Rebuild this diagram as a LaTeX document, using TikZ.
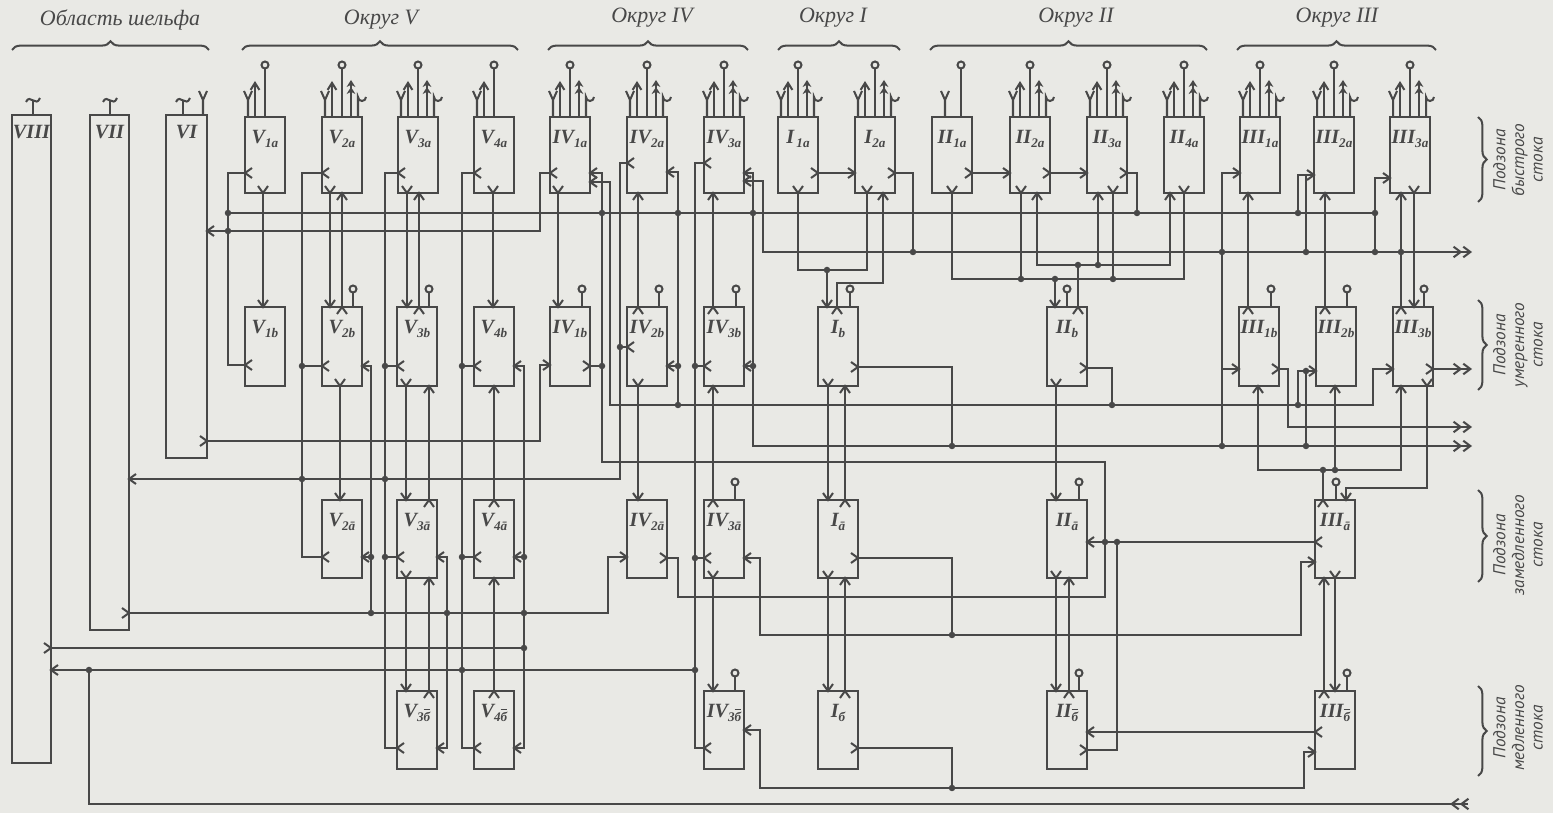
\documentclass[tikz,border=0pt]{standalone}
\usepackage{fontspec}
\setmainfont{Liberation Serif}
\newfontfamily\lbfont{Liberation Serif}
\newfontfamily\rfont{PT Sans}
\usetikzlibrary{arrows.meta,decorations.pathreplacing,calc}
\definecolor{ink}{RGB}{72,72,72}
\definecolor{bg}{RGB}{233,233,229}
\tikzset{
  wire/.style={draw=ink,line width=1.15pt},
  box/.style={draw=ink,line width=1.5pt,inner sep=0pt,outer sep=0pt,shape=rectangle},
  lab/.style={text=ink,font=\lbfont\bfseries\itshape\fontsize{11.5}{12}\selectfont,inner sep=0pt},
  hdr/.style={text=ink,font=\lbfont\itshape\fontsize{12.5}{13}\selectfont,inner sep=0pt},
  side/.style={text=ink,font=\rfont\itshape\fontsize{9.8}{10.6}\selectfont,align=center,rotate=90,inner sep=0pt},
  dbl/.style={-{Straight Barb[length=4pt,width=6pt]Straight Barb[length=4pt,width=6pt]}},
  brc/.style={wire,decorate,decoration={brace,amplitude=5pt}},
}
\newcommand\blab[2]{#1\raisebox{-0.4ex}{\fontsize{7.5}{8}\selectfont #2}}
\newcommand\bb{$\overline{\mbox{б}}$}
\newcommand\mkbox[6]{%
  \node[box,minimum width={(#3-#2)*0.02cm},minimum height={(#5-#4)*0.02cm}] (#1) at ({(#2+#3)/2},{(#4+#5)/2}) {};
  \node[lab] (#1t) at ({(#2+#3)/2},{#4+22}) {#6};}
\newcommand\chE[2]{\draw[wire] ({#1-7},{#2-5}) -- (#1,#2) -- ({#1-7},{#2+5});}
\newcommand\chW[2]{\draw[wire] ({#1+7},{#2-5}) -- (#1,#2) -- ({#1+7},{#2+5});}
\newcommand\chN[2]{\draw[wire] ({#1-5},{#2+7}) -- (#1,#2) -- ({#1+5},{#2+7});}
\newcommand\chS[2]{\draw[wire] ({#1-5},{#2-7}) -- (#1,#2) -- ({#1+5},{#2-7});}
\newcommand\jd[2]{\fill[ink] (#1,#2) circle[radius=0.065cm];}
\newcommand\symY[1]{\draw[wire] (#1,117) -- (#1,100) ({#1-4},91) -- (#1,100) -- ({#1+4},91);}
\newcommand\symUp[1]{\draw[wire,-{Straight Barb[length=4pt,width=5pt]}] (#1,117) -- (#1,81);}
\newcommand\symO[1]{\draw[wire] (#1,117) -- (#1,69); \draw[wire,fill=bg] (#1,65) circle[radius=0.07cm];}
\newcommand\symDb[1]{\draw[wire,-{Stealth[length=4pt,width=5pt]Stealth[length=4pt,width=5pt]}] (#1,117) -- (#1,80);}
\newcommand\symU[1]{\draw[wire] (#1,117) -- (#1,97) arc[start angle=180,end angle=360,radius=0.08cm];}
\newcommand\tfull[1]{\symY{#1+3}\symUp{#1+10}\symO{#1+20}\symDb{#1+29}\symU{#1+36}}
\newcommand\tthree[1]{\symY{#1+3}\symUp{#1+10}\symO{#1+20}}
\newcommand\symT[1]{\draw[wire] (#1,115) -- (#1,101); \draw[wire] ({#1-7},102) .. controls ({#1-3},93) and ({#1+3},108) .. ({#1+7},98);}
\newcommand\symC[2]{\draw[wire] (#1,#2) -- (#1,{#2-14}); \draw[wire,fill=bg] (#1,{#2-18}) circle[radius=0.07cm];}
\begin{document}
\begin{tikzpicture}[x=0.02cm,y=-0.02cm]
\useasboundingbox (0,0) rectangle (1553,813);
\fill[bg] (0,0) rectangle (1553,813);

% ---------- headers
\draw[brc] (12,50) -- (209,50);   \node[hdr] (h0) at (120,20) {Область шельфа};
\draw[brc] (242,50) -- (518,50);  \node[hdr] (h5) at (381,20) {Округ V};
\draw[brc] (548,50) -- (748,50);  \node[hdr] (h4) at (652,18) {Округ IV};
\draw[brc] (778,50) -- (900,50);  \node[hdr] (h1) at (833,18) {Округ I};
\draw[brc] (930,50) -- (1207,50); \node[hdr] (h2) at (1076,18) {Округ II};
\draw[brc] (1237,50) -- (1436,50);\node[hdr] (h3) at (1337,18) {Округ III};

% ---------- side labels
\draw[brc] (1478,117) -- (1478,202); \node[side] (r1) at (1518,160) {Подзона\\быстрого\\стока};
\draw[brc] (1478,300) -- (1478,390); \node[side] (r2) at (1518,345) {Подзона\\умеренного\\стока};
\draw[brc] (1478,490) -- (1478,582); \node[side] (r3) at (1518,545) {Подзона\\замедленного\\стока};
\draw[brc] (1478,686) -- (1478,776); \node[side] (r4) at (1518,728) {Подзона\\медленного\\стока};

% ---------- shelf boxes
\node[box,minimum width=0.78cm,minimum height=12.96cm] (VIII) at (31.5,439) {};
\node[lab] (VIIIt) at (31.5,132) {VIII};
\node[box,minimum width=0.78cm,minimum height=10.3cm] (VII) at (109.5,372.5) {};
\node[lab] (VIIt) at (109.5,132) {VII};
\node[box,minimum width=0.82cm,minimum height=6.86cm] (VI) at (186.5,286.5) {};
\node[lab] (VIt) at (186.5,132) {VI};
\symT{33}\symT{110}\symT{183}
\draw[wire] (203,115) -- (203,100) (199,91) -- (203,100) -- (207,91);

% ---------- row a
\mkbox{V1a}{245}{285}{117}{193}{\blab{V}{1a}}
\mkbox{V2a}{322}{362}{117}{193}{\blab{V}{2a}}
\mkbox{V3a}{398}{438}{117}{193}{\blab{V}{3a}}
\mkbox{V4a}{474}{514}{117}{193}{\blab{V}{4a}}
\mkbox{IV1a}{550}{590}{117}{193}{\blab{IV}{1a}}
\mkbox{IV2a}{627}{667}{117}{193}{\blab{IV}{2a}}
\mkbox{IV3a}{704}{744}{117}{193}{\blab{IV}{3a}}
\mkbox{I1a}{778}{818}{117}{193}{\blab{I}{\,1a}}
\mkbox{I2a}{855}{895}{117}{193}{\blab{I}{2a}}
\mkbox{II1a}{932}{972}{117}{193}{\blab{II}{1a}}
\mkbox{II2a}{1010}{1050}{117}{193}{\blab{II}{2a}}
\mkbox{II3a}{1087}{1127}{117}{193}{\blab{II}{3a}}
\mkbox{II4a}{1164}{1204}{117}{193}{\blab{II}{4a}}
\mkbox{III1a}{1240}{1280}{117}{193}{\blab{III}{1a}}
\mkbox{III2a}{1314}{1354}{117}{193}{\blab{III}{2a}}
\mkbox{III3a}{1390}{1430}{117}{193}{\blab{III}{3a}}
\tthree{245}\tfull{322}\tfull{398}\tthree{474}\tfull{550}\tfull{627}\tfull{704}
\tfull{778}\tfull{855}\symY{945}\symO{961}\tfull{1010}\tfull{1087}\tfull{1164}
\tfull{1240}\tfull{1314}\tfull{1390}

% ---------- row b
\mkbox{V1b}{245}{285}{307}{386}{\blab{V}{1b}}
\mkbox{V2b}{322}{362}{307}{386}{\blab{V}{2b}}
\mkbox{V3b}{397}{437}{307}{386}{\blab{V}{3b}}
\mkbox{V4b}{474}{514}{307}{386}{\blab{V}{4b}}
\mkbox{IV1b}{550}{590}{307}{386}{\blab{IV}{1b}}
\mkbox{IV2b}{627}{667}{307}{386}{\blab{IV}{2b}}
\mkbox{IV3b}{704}{744}{307}{386}{\blab{IV}{3b}}
\mkbox{Ib}{818}{858}{307}{386}{\blab{I}{b}}
\mkbox{IIb}{1047}{1087}{307}{386}{\blab{II}{b}}
\mkbox{III1b}{1239}{1279}{307}{386}{\blab{III}{1b}}
\mkbox{III2b}{1316}{1356}{307}{386}{\blab{III}{2b}}
\mkbox{III3b}{1393}{1433}{307}{386}{\blab{III}{3b}}
\symC{353}{307}\symC{429}{307}\symC{582}{307}\symC{659}{307}\symC{736}{307}
\symC{850}{307}\symC{1067}{307}\symC{1271}{307}\symC{1347}{307}\symC{1424}{307}

% ---------- row a-bar
\mkbox{V2c}{322}{362}{500}{578}{\blab{V}{2ā}}
\mkbox{V3c}{397}{437}{500}{578}{\blab{V}{3ā}}
\mkbox{V4c}{474}{514}{500}{578}{\blab{V}{4ā}}
\mkbox{IV2c}{627}{667}{500}{578}{\blab{IV}{2ā}}
\mkbox{IV3c}{704}{744}{500}{578}{\blab{IV}{3ā}}
\mkbox{Ic}{818}{858}{500}{578}{\blab{I}{ā}}
\mkbox{IIc}{1047}{1087}{500}{578}{\blab{II}{ā}}
\mkbox{IIIc}{1315}{1355}{500}{578}{\blab{III}{ā}}
\symC{735}{500}\symC{1079}{500}\symC{1336}{500}

% ---------- row b-bar
\mkbox{V3d}{397}{437}{691}{769}{\blab{V}{3\bb}}
\mkbox{V4d}{474}{514}{691}{769}{\blab{V}{4\bb}}
\mkbox{IV3d}{704}{744}{691}{769}{\blab{IV}{3\bb}}
\mkbox{Id}{818}{858}{691}{769}{\blab{I}{б}}
\mkbox{IId}{1047}{1087}{691}{769}{\blab{II}{\bb}}
\mkbox{IIId}{1315}{1355}{691}{769}{\blab{III}{\bb}}
\symC{735}{691}\symC{1079}{691}\symC{1347}{691}

% ---------- buses
\draw[wire] (228,213) -- (1375,213);
\draw[wire,dbl] (744,181) -- (763,181) -- (763,252) -- (1472,252); \chW{744}{181}

% ---------- column V, a -> b
\draw[wire] (263,193) -- (263,307); \chS{263}{193}\chS{263}{307}
\draw[wire] (330,193) -- (330,307); \chS{330}{193}\chS{330}{307}
\draw[wire] (342,307) -- (342,193); \chN{342}{307}\chN{342}{193}
\draw[wire] (407,193) -- (407,307); \chS{407}{193}\chS{407}{307}
\draw[wire] (419,307) -- (419,193); \chN{419}{307}\chN{419}{193}
\draw[wire] (493,193) -- (493,307); \chS{493}{193}\chS{493}{307}
\draw[wire] (558,193) -- (558,307); \chS{558}{193}\chS{558}{307}
\draw[wire] (638,307) -- (638,193); \chN{638}{307}\chN{638}{193}
\draw[wire] (713,307) -- (713,193); \chN{713}{307}\chN{713}{193}

% ---------- column I top
\draw[wire] (798,193) -- (798,270) -- (867,270) -- (867,193); \chS{798}{193}\chS{867}{193}
\draw[wire] (827,270) -- (827,307); \chS{827}{307}\jd{827}{270}
\draw[wire] (837,307) -- (837,283) -- (883,283) -- (883,193); \chN{837}{307}\chN{883}{193}
\draw[wire] (818,173) -- (855,173); \chE{818}{173}\chE{855}{173}
\draw[wire] (895,173) -- (913,173) -- (913,252); \chE{895}{173}\jd{913}{252}

% ---------- column II top
\draw[wire] (972,173) -- (1010,173); \chE{972}{173}\chE{1010}{173}
\draw[wire] (1050,173) -- (1087,173); \chE{1050}{173}\chE{1087}{173}
\draw[wire] (1127,173) -- (1137,173) -- (1137,213); \chE{1127}{173}\jd{1137}{213}
\draw[wire] (952,193) -- (952,279) -- (1184,279) -- (1184,193); \chS{952}{193}\chS{1184}{193}
\draw[wire] (1021,193) -- (1021,279); \chS{1021}{193}\jd{1021}{279}
\draw[wire] (1113,193) -- (1113,279); \chS{1113}{193}\jd{1113}{279}
\draw[wire] (1055,279) -- (1055,307); \chS{1055}{307}\jd{1055}{279}
\draw[wire] (1037,193) -- (1037,265) -- (1170,265) -- (1170,193); \chN{1037}{193}\chN{1170}{193}
\draw[wire] (1098,265) -- (1098,193); \chN{1098}{193}\jd{1098}{265}
\draw[wire] (1078,307) -- (1078,265); \chN{1078}{307}\jd{1078}{265}

% ---------- column III top
\draw[wire] (1248,307) -- (1248,193); \chN{1248}{307}\chN{1248}{193}
\draw[wire] (1325,307) -- (1325,193); \chN{1325}{307}\chN{1325}{193}
\draw[wire] (1401,307) -- (1401,193); \chN{1401}{307}\chN{1401}{193}\jd{1401}{252}
\draw[wire] (1414,193) -- (1414,307); \chS{1414}{193}\chS{1414}{307}
\draw[wire] (1240,173) -- (1222,173) -- (1222,446); \chE{1240}{173}\jd{1222}{252}\jd{1222}{446}
\draw[wire] (1222,369) -- (1239,369); \chE{1239}{369}
\draw[wire] (1298,213) -- (1298,175) -- (1314,175); \chE{1314}{175}\jd{1298}{213}
\draw[wire] (1306,252) -- (1306,175); \jd{1306}{252}
\draw[wire] (1390,178) -- (1375,178) -- (1375,252); \chE{1390}{178}\jd{1375}{213}\jd{1375}{252}

% ---------- left part, column V
\draw[wire] (245,173) -- (228,173) -- (228,365) -- (245,365); \chW{245}{173}\chW{245}{365}\jd{228}{213}\jd{228}{231}
\draw[wire] (550,173) -- (540,173) -- (540,231) -- (207,231); \chW{550}{173}\chW{207}{231}
\draw[wire] (207,441) -- (540,441) -- (540,365) -- (550,365); \chE{207}{441}\chE{550}{365}
\draw[wire] (322,173) -- (302,173) -- (302,557) -- (322,557); \chW{322}{173}\chW{322}{557}
\draw[wire] (302,366) -- (322,366); \chW{322}{366}\jd{302}{366}\jd{302}{479}
\draw[wire] (398,173) -- (385,173) -- (385,748) -- (397,748); \chW{398}{173}\chW{397}{748}
\draw[wire] (385,366) -- (397,366); \chW{397}{366}\jd{385}{366}
\draw[wire] (385,557) -- (397,557); \chW{397}{557}\jd{385}{557}\jd{385}{479}
\draw[wire] (474,173) -- (462,173) -- (462,748) -- (474,748); \chW{474}{173}\chW{474}{748}
\draw[wire] (462,366) -- (474,366); \chW{474}{366}\jd{462}{366}
\draw[wire] (462,557) -- (474,557); \chW{474}{557}\jd{462}{557}\jd{462}{670}
\draw[wire] (362,366) -- (371,366) -- (371,613); \chW{362}{366}
\draw[wire] (362,557) -- (371,557); \chW{362}{557}\jd{371}{557}\jd{371}{613}
\draw[wire] (437,557) -- (447,557) -- (447,748) -- (437,748); \chW{437}{557}\chW{437}{748}\jd{447}{613}
\draw[wire] (514,366) -- (524,366) -- (524,748) -- (514,748); \chW{514}{366}\chW{514}{748}
\draw[wire] (514,557) -- (524,557); \chW{514}{557}\jd{524}{557}\jd{524}{613}\jd{524}{648}
\draw[wire] (340,386) -- (340,500); \chS{340}{386}\chS{340}{500}
\draw[wire] (406,386) -- (406,500); \chS{406}{386}\chS{406}{500}
\draw[wire] (429,500) -- (429,386); \chN{429}{500}\chN{429}{386}
\draw[wire] (406,578) -- (406,691); \chS{406}{578}\chS{406}{691}
\draw[wire] (429,691) -- (429,578); \chN{429}{691}\chN{429}{578}
\draw[wire] (494,500) -- (494,386); \chN{494}{500}\chN{494}{386}
\draw[wire] (494,691) -- (494,578); \chN{494}{691}\chN{494}{578}

% ---------- shelf links
\draw[wire] (129,613) -- (608,613) -- (608,557) -- (627,557); \chE{129}{613}\chE{627}{557}
\draw[wire] (627,163) -- (620,163) -- (620,479) -- (129,479); \chW{627}{163}\chW{129}{479}
\draw[wire] (620,347) -- (627,347); \chW{627}{347}\jd{620}{347}
\draw[wire] (51,648) -- (524,648); \chE{51}{648}
\draw[wire] (695,670) -- (51,670); \chW{51}{670}\jd{89}{670}\jd{695}{670}
\draw[wire] (89,670) -- (89,804) -- (1468,804);
\draw[wire,dbl] (1468,804) -- (1450,804);

% ---------- column IV
\draw[wire] (704,163) -- (695,163) -- (695,748) -- (704,748); \chW{704}{163}\chW{704}{748}
\draw[wire] (695,366) -- (704,366); \chW{704}{366}\jd{695}{366}
\draw[wire] (695,558) -- (704,558); \chW{704}{558}\jd{695}{558}
\draw[wire] (590,173) -- (602,173) -- (602,462) -- (1105,462) -- (1105,597) -- (678,597) -- (678,558) -- (667,558); \chW{590}{173}\chE{667}{558}
\draw[wire] (590,366) -- (602,366); \chE{590}{366}\jd{602}{366}\jd{602}{213}
\draw[wire] (590,182) -- (610,182) -- (610,405) -- (1373,405) -- (1373,369) -- (1393,369); \chW{590}{182}\chE{1393}{369}
\jd{678}{405}\jd{1112}{405}\jd{1298}{405}
\draw[wire] (667,172) -- (678,172) -- (678,405); \chW{667}{172}
\draw[wire] (667,366) -- (678,366); \chW{667}{366}\jd{678}{213}\jd{678}{366}
\draw[wire,dbl] (744,173) -- (753,173) -- (753,446) -- (1472,446); \chW{744}{173}
\draw[wire] (744,366) -- (753,366); \chW{744}{366}\jd{753}{213}\jd{753}{366}
\draw[wire] (638,386) -- (638,500); \chS{638}{386}\chS{638}{500}
\draw[wire] (713,500) -- (713,386); \chN{713}{500}\chN{713}{386}
\draw[wire] (713,578) -- (713,691); \chS{713}{578}\chS{713}{691}

% ---------- column I lower
\draw[wire] (858,367) -- (952,367) -- (952,446); \chE{858}{367}\jd{952}{446}
\draw[wire] (828,386) -- (828,500); \chS{828}{386}\chS{828}{500}
\draw[wire] (845,500) -- (845,386); \chN{845}{500}\chN{845}{386}
\draw[wire] (828,578) -- (828,691); \chS{828}{578}\chS{828}{691}
\draw[wire] (845,691) -- (845,578); \chN{845}{691}\chN{845}{578}
\draw[wire] (858,558) -- (952,558) -- (952,635); \chE{858}{558}\jd{952}{635}
\draw[wire] (744,558) -- (760,558) -- (760,635) -- (1301,635) -- (1301,562) -- (1315,562); \chW{744}{558}\chE{1315}{562}
\draw[wire] (858,748) -- (952,748) -- (952,788); \chE{858}{748}\jd{952}{788}
\draw[wire] (744,730) -- (760,730) -- (760,788) -- (1304,788) -- (1304,752) -- (1315,752); \chW{744}{730}\chE{1315}{752}

% ---------- column II lower
\draw[wire] (1087,368) -- (1112,368) -- (1112,405); \chE{1087}{368}
\draw[wire] (1056,386) -- (1056,500); \chS{1056}{386}\chS{1056}{500}
\draw[wire] (1056,578) -- (1056,691); \chS{1056}{578}\chS{1056}{691}
\draw[wire] (1069,691) -- (1069,578); \chN{1069}{691}\chN{1069}{578}
\draw[wire] (1315,542) -- (1087,542); \chW{1315}{542}\chW{1087}{542}\jd{1105}{542}\jd{1117}{542}
\draw[wire] (1087,750) -- (1117,750) -- (1117,542); \chE{1087}{750}
\draw[wire] (1315,732) -- (1087,732); \chW{1315}{732}\chW{1087}{732}

% ---------- column III lower
\draw[wire,dbl] (1279,369) -- (1288,369) -- (1288,427) -- (1472,427); \chE{1279}{369}
\draw[wire] (1298,405) -- (1298,371) -- (1316,371); \chE{1316}{371}
\draw[wire] (1306,446) -- (1306,371); \jd{1306}{446}\jd{1306}{371}
\draw[wire,dbl] (1433,369) -- (1472,369); \chE{1433}{369}
\draw[wire] (1258,386) -- (1258,470) -- (1401,470) -- (1401,386); \chN{1258}{386}\chN{1401}{386}
\draw[wire] (1335,470) -- (1335,386); \chN{1335}{386}\jd{1335}{470}
\draw[wire] (1323,500) -- (1323,470); \chN{1323}{500}\jd{1323}{470}
\draw[wire] (1427,386) -- (1427,488) -- (1346,488) -- (1346,500); \chS{1427}{386}\chS{1346}{500}
\draw[wire] (1335,578) -- (1335,691); \chS{1335}{578}\chS{1335}{691}
\draw[wire] (1324,691) -- (1324,578); \chN{1324}{691}\chN{1324}{578}
\end{tikzpicture}
\end{document}
